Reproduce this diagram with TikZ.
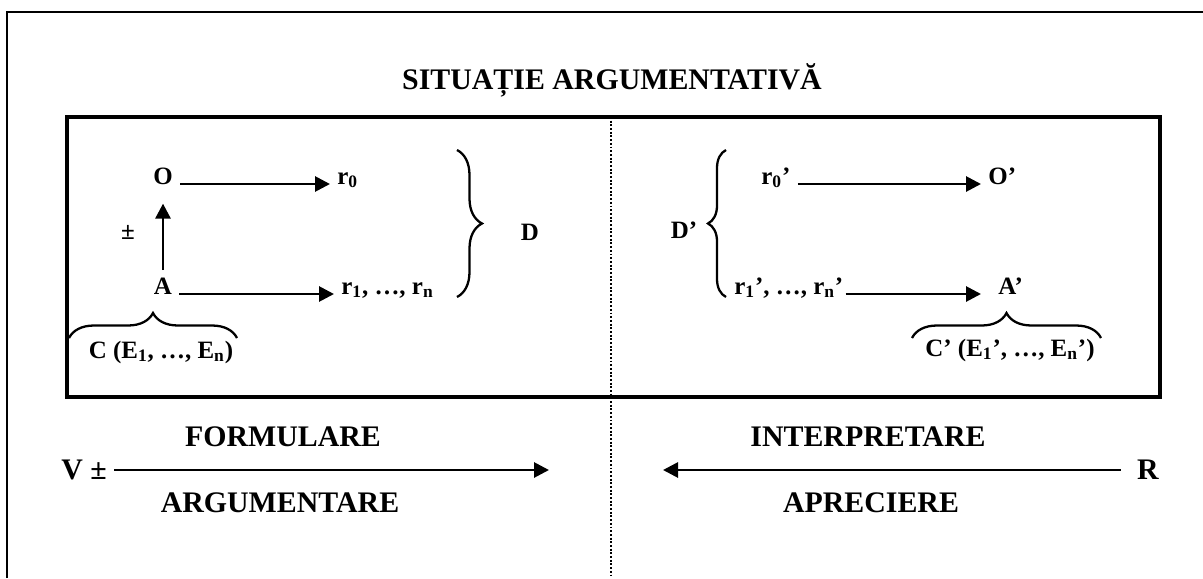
\documentclass[tikz,border=0pt]{standalone}
\usepackage{fontspec}
\setmainfont{Liberation Serif}
\usetikzlibrary{arrows.meta, decorations.pathreplacing}

\begin{document}
\begin{tikzpicture}[x=0.02cm, y=-0.02cm,
    mare/.style={font=\bfseries\fontsize{17}{20}\selectfont, inner sep=4pt},
    mic/.style={font=\bfseries\fontsize{14.2}{17}\selectfont, inner sep=4pt},
    sageata/.style={-{Triangle[length=0.3cm, width=0.3cm]}, line width=1.6pt},
    acolada/.style={decorate, decoration={brace, amplitude=#1}, line width=1.3pt}]
    \useasboundingbox (0,0) rectangle (1203,578);
    % Chenar exterior (taiat la dreapta si jos)
    \draw[line width=1.5pt] (7,578) -- (7,12) -- (1203,12);
    % Titlu
    \node[mare] (titlu) at (612,80) {SITUAȚIE ARGUMENTATIVĂ};
    % Chenar interior si linia punctata
    \draw[line width=1.8pt] (67,117) rectangle (1160,397);
    \draw[densely dotted, line width=1.1pt] (611,117) -- (611,578);
    % Partea stanga: O, A
    \node[mic, anchor=base] (O) at (163,184) {O};
    \node[mic, anchor=base] (A) at (163,294) {A};
    \node[mic, anchor=base west] (r0) at (330,184) {r\textsubscript{0}};
    \node[mic, anchor=base west] (r1) at (334,294) {r\textsubscript{1}, …, r\textsubscript{n}};
    \node[mic] (pm) at (128,232) {±};
    \draw[sageata] (O.base east) -- (r0.base west);
    \draw[sageata] (A.base east) -- (r1.base west);
    \draw[sageata, shorten >=0.24cm] (A.north) -- (O.south);
    % Acolada D
    \draw[acolada=0.5cm] (457,150) -- (457,297);
    \node[mic] (D) at (530,232) {D};
    % Acolada C
    \draw[acolada=0.5cm] (69,338) -- (237,338);
    \node[mic] (C) at (161,352) {C (E\textsubscript{1}, …, E\textsubscript{n})};
    % Partea dreapta: O', A'
    \node[mic, anchor=base west] (r0p) at (754,184) {r\textsubscript{0}’};
    \node[mic, anchor=base west] (Op) at (981,184) {O’};
    \node[mic, anchor=base west] (r1p) at (727,294) {r\textsubscript{1}’, …, r\textsubscript{n}’};
    \node[mic, anchor=base west] (Ap) at (991,294) {A’};
    \draw[sageata] (r0p.base east) -- (Op.base west);
    \draw[sageata, shorten <=-0.1cm, shorten >=0.2cm] (r1p.base east) -- (Ap.base west);
    % Acolada D'
    \draw[acolada=0.36cm] (726,297) -- (726,150);
    \node[mic] (Dp) at (684,230) {D’};
    % Acolada C'
    \draw[acolada=0.5cm] (912,338) -- (1101,338);
    \node[mic] (Cp) at (1010,350) {C’ (E\textsubscript{1}’, …, E\textsubscript{n}’)};
    % Jos: formulare / interpretare
    \node[mare] (V) at (84,470) {V ±};
    \coordinate (capV) at (549,470);
    \draw[sageata] (V.east) -- (capV);
    \node[mare] (R) at (1148,470) {R};
    \coordinate (capR) at (663,470);
    \draw[sageata, shorten <=0.18cm] (R.west) -- (capR);
    \node[mare] (formulare) at (283,437) {FORMULARE};
    \node[mare] (argumentare) at (280,503) {ARGUMENTARE};
    \node[mare] (interpretare) at (868,437) {INTERPRETARE};
    \node[mare] (apreciere) at (871,503) {APRECIERE};
\end{tikzpicture}
\end{document}
